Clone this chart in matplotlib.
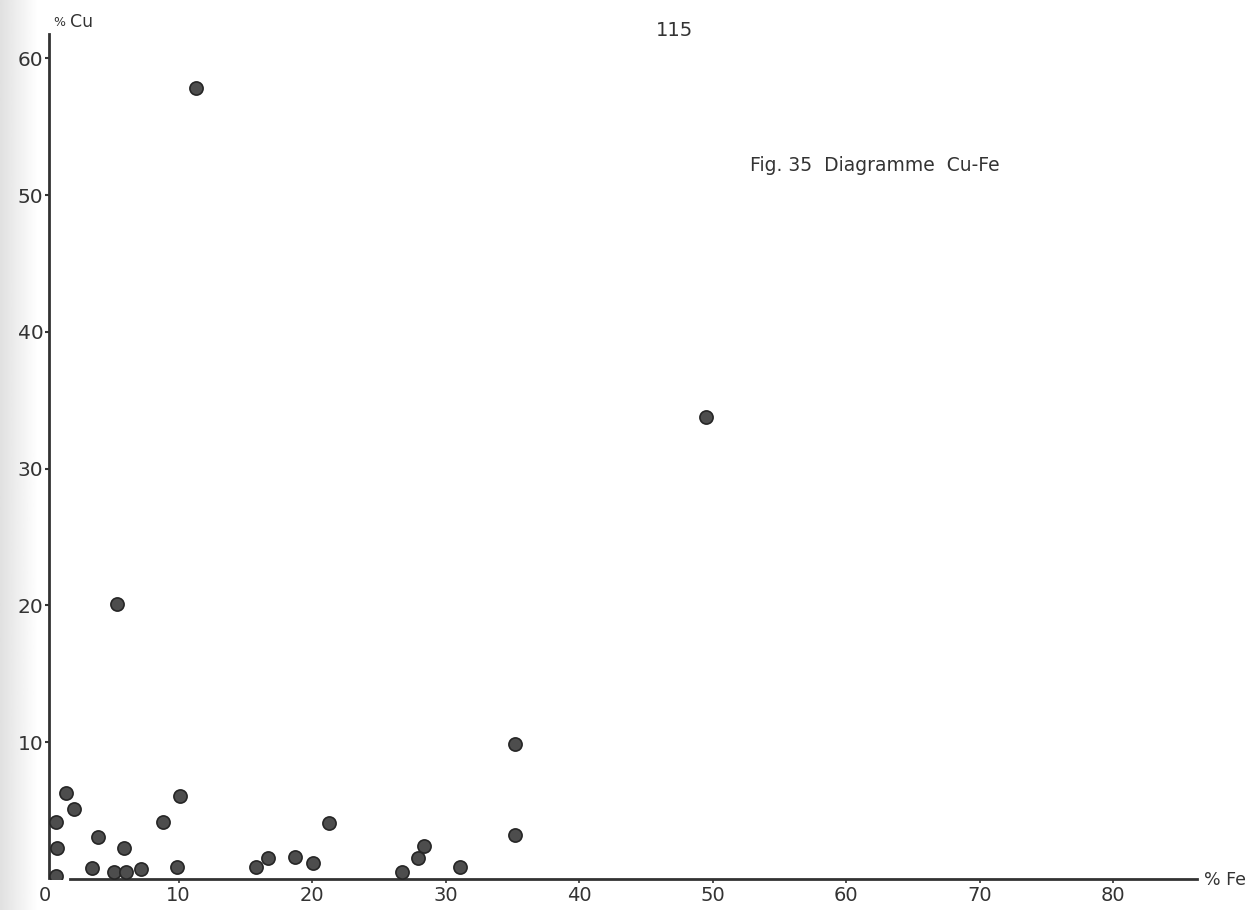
import numpy as np
from matplotlib import pyplot as plt

# % Fe / % Cu
fe = [11.3, 49.5, 5.4, 35.2, 35.2,
      0.8, 0.9, 0.8, 1.6, 2.2, 4.0, 3.5, 5.2, 6.1, 5.9, 7.2, 8.8, 10.1, 9.9,
      15.8, 16.7, 18.7, 20.1, 21.3,
      26.7, 27.9, 28.4, 31.1]
cu = [57.8, 33.8, 20.1, 9.9, 3.2,
      4.2, 2.3, 0.2, 6.3, 5.1, 3.1, 0.8, 0.5, 0.5, 2.3, 0.7, 4.2, 6.1, 0.9,
      0.9, 1.5, 1.6, 1.2, 4.1,
      0.5, 1.5, 2.4, 0.9]

xticks = [0, 10, 20, 30, 40, 50, 60, 70, 80]
yticks = [10, 20, 30, 40, 50, 60]

fig = plt.figure(figsize=(12.5, 9.1), dpi=100)

# faint grey edge of the scanned page
bg = fig.add_axes([0, 0, 0.03, 1])
bg.imshow(np.linspace(0.88, 1.0, 50)[None, :], aspect="auto", cmap="gray", vmin=0, vmax=1)
bg.axis("off")

ax = fig.add_axes([0.036, 0.0341, 0.924, 0.932])
ax.patch.set_alpha(0)

ax.scatter(fe, cu, s=90, color="#4d4d4d", edgecolors="#262626", linewidths=1.2, zorder=3)

ax.set_xlim(0, 86.5)
ax.set_ylim(0, 62)

for s in ["top", "right"]:
	ax.spines[s].set_visible(False)
ax.spines["left"].set_position(("data", 0.3))
ax.spines["left"].set_bounds(0.05, 61.8)
ax.spines["bottom"].set_bounds(1.9, 86.3)
ax.spines["left"].set_linewidth(2)
ax.spines["bottom"].set_linewidth(2)
ax.spines["left"].set_color("#333333")
ax.spines["bottom"].set_color("#333333")

ax.set_xticks(xticks)
ax.set_yticks(yticks)
ax.set_xticklabels([str(t) for t in xticks])
ax.set_yticklabels([str(t) for t in yticks])
ax.tick_params(axis="x", length=3, width=1.2, pad=2, labelsize=14, colors="#333333")
ax.tick_params(axis="y", length=3, width=1.5, pad=1, labelsize=14.5, colors="#333333")
ax.xaxis.get_major_ticks()[0].tick1line.set_visible(False)

# labels placed like the original page
fig.text(0.043, 0.975, "%", fontsize=9, color="#333333", va="center")
fig.text(0.056, 0.976, "Cu", fontsize=12.5, color="#333333", va="center")
fig.text(0.54, 0.967, "115", fontsize=14, color="#333333", ha="center", va="center")
fig.text(0.6, 0.818, "Fig. 35  Diagramme  Cu-Fe", fontsize=13.5, color="#333333", va="center")
fig.text(0.963, 0.033, "% Fe", fontsize=12.5, color="#333333", va="center")

fig.savefig("out.png", dpi=100)
